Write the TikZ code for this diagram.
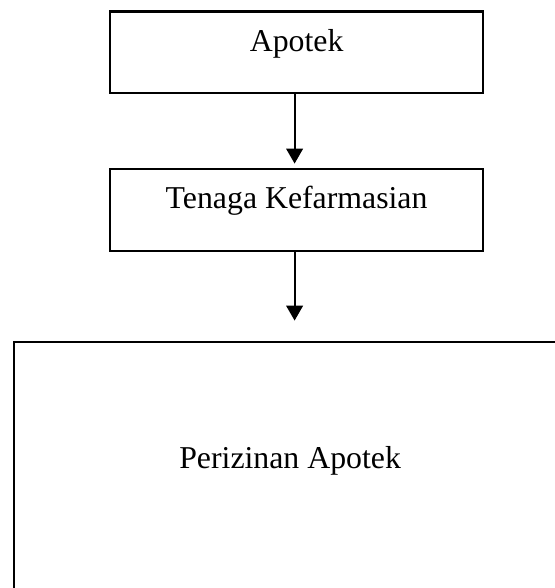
\documentclass[tikz,border=0pt]{standalone}
\usepackage{fontspec}
\setmainfont{Liberation Serif}
\usetikzlibrary{arrows.meta}

\begin{document}
\begin{tikzpicture}[x=0.5pt, y=-0.5pt, line width=1.1pt, >={Triangle[width=8.3pt,length=7.5pt]}, main node/.style={rectangle,draw,anchor=north west,inner xsep=0pt,inner ysep=0pt,font=\fontsize{15.9}{19}\selectfont}, small box/.style={main node,minimum width=186.5pt,text height=19.75pt,text depth=21pt}]

                    \useasboundingbox (0,0) rectangle (555,588);

                    \node[small box] at (109, 10.5) (apotek) {Apotek};
                    \node[small box] at (109, 168) (tenaga) {Tenaga Kefarmasian};
                    \node[main node, minimum width=276.3pt, text height=63pt, text depth=70pt] at (12.7, 341) (izin) {Perizinan Apotek};

                    \path[->] ([xshift=-1pt]apotek.south) edge[shorten >=2.2pt] ([xshift=-1pt]tenaga.north);
                    \path[->] ([xshift=-1pt]tenaga.south) edge[shorten >=10.2pt] ([xshift=-1pt]tenaga.south |- izin.north);

                \end{tikzpicture}
\end{document}
